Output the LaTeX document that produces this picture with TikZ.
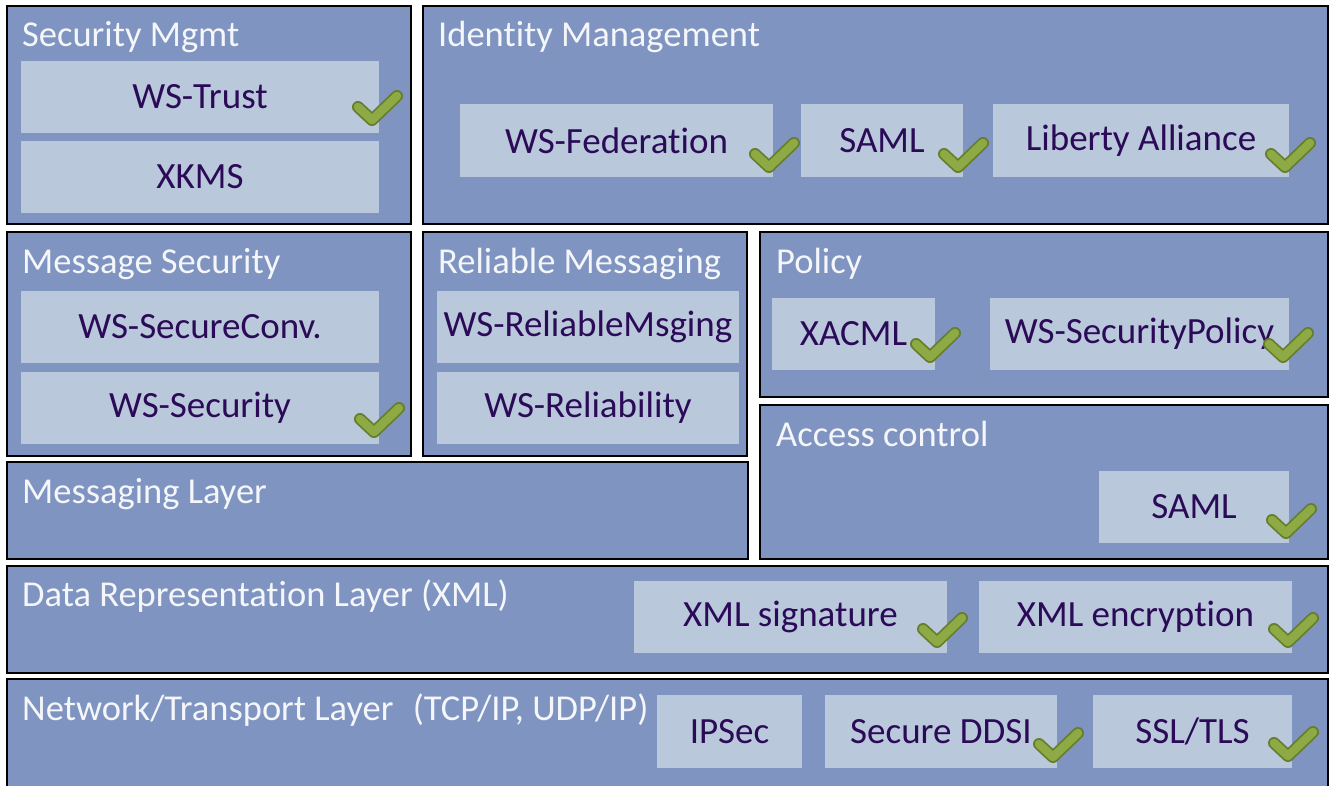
\documentclass[tikz,border=0pt]{standalone}
\usepackage{fontspec}
\setmainfont{Carlito}[Ligatures=CommonOff]
\definecolor{panelblue}{HTML}{7F94C0}
\definecolor{itemblue}{HTML}{B9C8DA}
\definecolor{itemtext}{HTML}{2B0B57}
\definecolor{titletext}{HTML}{F4F6FA}
\definecolor{tickfill}{HTML}{8DAA45}
\definecolor{tickedge}{HTML}{667E2C}
\tikzset{
  panel/.style={draw=black, line width=2pt, fill=panelblue, anchor=north west,
    inner sep=0pt, outer sep=0pt},
  item/.style={fill=itemblue, anchor=north west, inner sep=0pt, outer sep=0pt,
    text=itemtext, font=\fontsize{37}{42}\selectfont},
  ptitle/.style={anchor=base west, inner sep=0pt, text=titletext,
    font=\fontsize{36.5}{42}\selectfont},
  tick/.pic={
    \draw[tickedge, line width=12pt, line cap=round, line join=round]
      (-14,-13) -- (0,0) -- (25,-24);
    \draw[tickfill, line width=8.5pt, line cap=round, line join=round]
      (-14,-13) -- (0,0) -- (25,-24);
  }
}
\begin{document}
\begin{tikzpicture}[x=1pt, y=-1pt]
\useasboundingbox (0,0) rectangle (1332,785);
\clip (0,0) rectangle (1332,785);

% outer layer panels
\node[panel, minimum width=404, minimum height=218] (secmgmt) at (7,6) {};
\node[panel, minimum width=905, minimum height=218] (idm) at (423,6) {};
\node[panel, minimum width=404, minimum height=224] (msgsec) at (7,232) {};
\node[panel, minimum width=324, minimum height=224] (relmsg) at (423,232) {};
\node[panel, minimum width=568, minimum height=165] (policy) at (760,232) {};
\node[panel, minimum width=568, minimum height=154] (access) at (760,405) {};
\node[panel, minimum width=741, minimum height=97] (msglayer) at (7,462) {};
\node[panel, minimum width=1321, minimum height=107] (datarep) at (7,566) {};
\node[panel, minimum width=1321, minimum height=120] (network) at (7,679) {};

% panel titles
\node[ptitle] (tsecmgmt) at (22,46) {Security Mgmt};
\node[ptitle] (tidm) at (438,46) {Identity Management};
\node[ptitle] (tmsgsec) at (22,273) {Message Security};
\node[ptitle] (trelmsg) at (438,273) {Reliable Messaging};
\node[ptitle] (tpolicy) at (776,273) {Policy};
\node[ptitle] (taccess) at (776,446) {Access control};
\node[ptitle] (tmsglayer) at (22,503) {Messaging Layer};
\node[ptitle] (tdatarep) at (22,606) {Data Representation Layer (XML)};
\node[ptitle] (tnetwork) at (22,720) {Network/Transport Layer\hspace{0.3em} (TCP/IP, UDP/IP)};

% standards
\node[item, minimum width=358, minimum height=72] (wstrust) at (21,61) {WS-Trust};
\node[item, minimum width=358, minimum height=72] (xkms) at (21,141) {XKMS};
\node[item, minimum width=313, minimum height=73] (wsfed) at (460,104) {WS-Federation};
\node[item, minimum width=162, minimum height=73] (samlid) at (801,104) {SAML};
\node[item, minimum width=296, minimum height=73] (liberty) at (993,104) {Liberty Alliance};
\node[item, minimum width=358, minimum height=72] (wssc) at (21,291) {WS-SecureConv.};
\node[item, minimum width=358, minimum height=72] (wssec) at (21,372) {WS-Security};
\node[item, minimum width=302, minimum height=72] (wsrm) at (437,291) {WS-ReliableMsging};
\node[item, minimum width=302, minimum height=72] (wsrel) at (437,372) {WS-Reliability};
\node[item, minimum width=163, minimum height=72] (xacml) at (772,298) {XACML};
\node[item, minimum width=299, minimum height=72] (wssp) at (990,298) {WS-SecurityPolicy};
\node[item, minimum width=190, minimum height=72] (samlac) at (1099,471) {SAML};
\node[item, minimum width=313, minimum height=72] (xmlsig) at (634,581) {XML signature};
\node[item, minimum width=313, minimum height=72] (xmlenc) at (979,581) {XML encryption};
\node[item, minimum width=145, minimum height=73] (ipsec) at (657,695) {IPSec};
\node[item, minimum width=232, minimum height=73] (ddsi) at (825,695) {Secure DDSI};
\node[item, minimum width=199, minimum height=73] (ssl) at (1093,695) {SSL/TLS};

% check marks
\pic (ckwstrust) at (372,120) {tick};
\pic (ckwsfed) at (769,167) {tick};
\pic (cksamlid) at (958,167) {tick};
\pic (ckliberty) at (1285,167) {tick};
\pic (ckwssec) at (374,432) {tick};
\pic (ckxacml) at (930,357) {tick};
\pic (ckwssp) at (1283,357) {tick};
\pic (cksamlac) at (1286,533) {tick};
\pic (ckxmlsig) at (937,642) {tick};
\pic (ckxmlenc) at (1288,642) {tick};
\pic (ckddsi) at (1053,757) {tick};
\pic (ckssl) at (1288,756) {tick};
\end{tikzpicture}
\end{document}
